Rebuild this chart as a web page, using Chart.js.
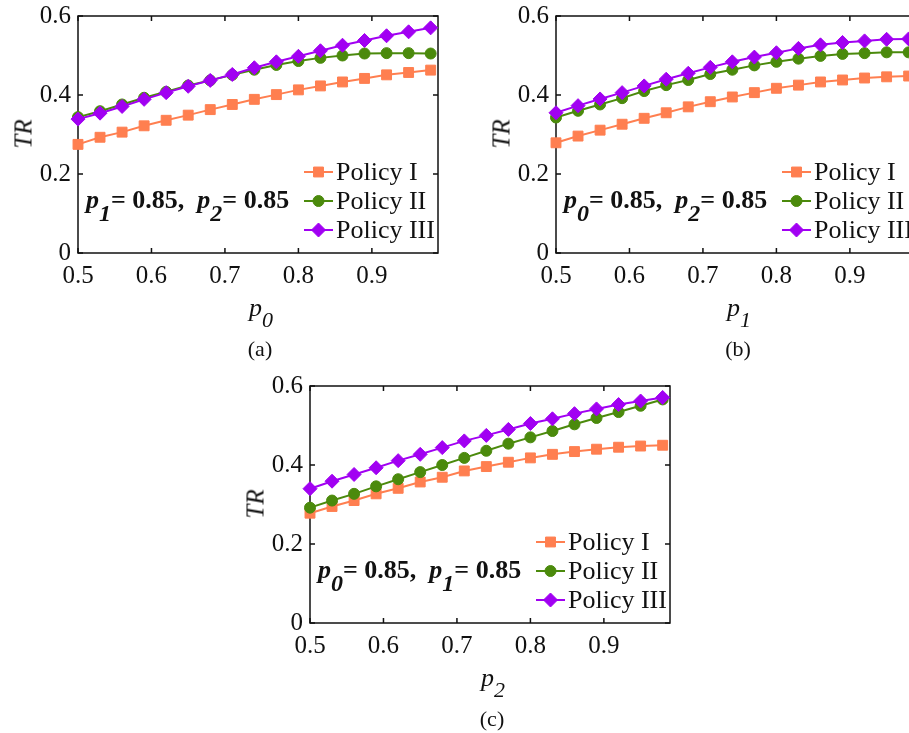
<!DOCTYPE html>
<html>
<head>
<meta charset="utf-8">
<title>TR vs p</title>
<script src="https://cdn.jsdelivr.net/npm/chart.js@4.4.1/dist/chart.umd.min.js"></script>
<style>
  html, body { margin: 0; padding: 0; background: #fff; overflow: hidden; width: 909px; height: 733px; }
  .panel { position: absolute; width: 460px; height: 370px; }
  .panel canvas { position: absolute; left: 0; top: 0; }
  .txt { position: absolute; font-family: 'Liberation Serif', 'Times New Roman', serif; color: #111; line-height: 1; white-space: nowrap; }
  .ytitle { left: 23px; top: 134px; font-size: 25px; font-style: italic; transform: translate(-50%, -50%) rotate(-90deg); }
  .xtitle { left: 261px; top: 295px; font-size: 26px; font-style: italic; transform: translateX(-50%); }
  .xtitle .sb { font-size: 22px; position: relative; top: 11px; }
  .cap { left: 260px; top: 338px; font-size: 22px; transform: translateX(-50%); }
  .note { left: 86px; top: 187px; font-size: 26px; font-weight: bold; }
  .note i { font-style: italic; }
  .note .sb { font-size: 24px; font-style: italic; position: relative; top: 13px; }
</style>
</head>
<body>

<div class="panel" style="left:0px; top:0px;">
  <canvas id="chartA" width="460" height="300"></canvas>
  <div class="txt ytitle">TR</div>
  <div class="txt xtitle">p<span class="sb">0</span></div>
  <div class="txt cap">(a)</div>
  <div class="txt note"><i>p</i><span class="sb">1</span>= 0.85,&nbsp; <i>p</i><span class="sb">2</span>= 0.85</div>
</div>

<div class="panel" style="left:478px; top:0px;">
  <canvas id="chartB" width="460" height="300"></canvas>
  <div class="txt ytitle">TR</div>
  <div class="txt xtitle">p<span class="sb">1</span></div>
  <div class="txt cap">(b)</div>
  <div class="txt note"><i>p</i><span class="sb">0</span>= 0.85,&nbsp; <i>p</i><span class="sb">2</span>= 0.85</div>
</div>

<div class="panel" style="left:232px; top:370px;">
  <canvas id="chartC" width="460" height="300"></canvas>
  <div class="txt ytitle">TR</div>
  <div class="txt xtitle">p<span class="sb">2</span></div>
  <div class="txt cap">(c)</div>
  <div class="txt note"><i>p</i><span class="sb">0</span>= 0.85,&nbsp; <i>p</i><span class="sb">1</span>= 0.85</div>
</div>

<script>
/* =========================
   DATA
========================= */
const xValues = [0.50, 0.53, 0.56, 0.59, 0.62, 0.65, 0.68, 0.71, 0.74, 0.77, 0.80, 0.83, 0.86, 0.89, 0.92, 0.95, 0.98];
const xTicks = [0.5, 0.6, 0.7, 0.8, 0.9];
const yTicks = [0, 0.2, 0.4, 0.6];

const seriesNames = ["Policy I", "Policy II", "Policy III"];
const seriesColors = ["#ff7f50", "#4b8a0c", "#a100f2"];
const seriesMarkers = ["rect", "circle", "rectRot"];
const markerSizes = [7, 5.5, 7];

// (a) TR over p0
const policyA1 = [0.275, 0.293, 0.306, 0.322, 0.336, 0.349, 0.363, 0.376, 0.389, 0.401, 0.413, 0.423, 0.433, 0.442, 0.451, 0.457, 0.463];
const policyA2 = [0.344, 0.359, 0.376, 0.393, 0.408, 0.424, 0.437, 0.451, 0.464, 0.476, 0.486, 0.494, 0.500, 0.505, 0.506, 0.506, 0.505];
const policyA3 = [0.339, 0.354, 0.371, 0.389, 0.406, 0.422, 0.437, 0.452, 0.469, 0.484, 0.498, 0.512, 0.526, 0.538, 0.550, 0.560, 0.570];

// (b) TR over p1
const policyB1 = [0.279, 0.296, 0.311, 0.326, 0.341, 0.355, 0.370, 0.383, 0.395, 0.406, 0.417, 0.425, 0.433, 0.438, 0.443, 0.446, 0.448];
const policyB2 = [0.343, 0.360, 0.376, 0.392, 0.410, 0.425, 0.438, 0.453, 0.464, 0.475, 0.484, 0.492, 0.499, 0.504, 0.506, 0.508, 0.508];
const policyB3 = [0.355, 0.373, 0.390, 0.406, 0.423, 0.440, 0.455, 0.470, 0.484, 0.496, 0.507, 0.518, 0.527, 0.533, 0.537, 0.541, 0.542];

// (c) TR over p2
const policyC1 = [0.278, 0.295, 0.310, 0.327, 0.341, 0.357, 0.369, 0.385, 0.396, 0.407, 0.418, 0.427, 0.434, 0.440, 0.445, 0.448, 0.450];
const policyC2 = [0.292, 0.310, 0.327, 0.346, 0.364, 0.382, 0.400, 0.418, 0.436, 0.454, 0.470, 0.486, 0.503, 0.519, 0.534, 0.550, 0.566];
const policyC3 = [0.340, 0.359, 0.376, 0.393, 0.411, 0.427, 0.444, 0.461, 0.475, 0.490, 0.505, 0.517, 0.530, 0.542, 0.553, 0.562, 0.571];

/* =========================
   PLUGIN: KOTAK + TICK KE DALAM
========================= */
const INK = "#111";

const boxPlugin = {
  id: "boxTicks",
  beforeDatasetsDraw(chart) {
    const { ctx, chartArea: a, scales } = chart;
    ctx.save();
    ctx.strokeStyle = INK;
    ctx.lineWidth = 1.5;
    ctx.strokeRect(a.left, a.top, a.right - a.left, a.bottom - a.top);
    ctx.beginPath();
    xTicks.forEach(v => {
      const px = scales.x.getPixelForValue(v);
      ctx.moveTo(px, a.bottom); ctx.lineTo(px, a.bottom - 5);
      ctx.moveTo(px, a.top); ctx.lineTo(px, a.top + 5);
    });
    yTicks.forEach(v => {
      const py = scales.y.getPixelForValue(v);
      ctx.moveTo(a.left, py); ctx.lineTo(a.left + 5, py);
      ctx.moveTo(a.right, py); ctx.lineTo(a.right - 5, py);
    });
    ctx.stroke();
    ctx.restore();
  }
};

/* =========================
   PLUGIN: LEGENDA DI DALAM PLOT
========================= */
function drawMarker(ctx, style, r, x, y) {
  if (Chart.helpers && Chart.helpers.drawPoint) {
    Chart.helpers.drawPoint(ctx, { pointStyle: style, radius: r, borderWidth: 1, rotation: 0 }, x, y);
    return;
  }
  ctx.beginPath();
  ctx.arc(x, y, r, 0, Math.PI * 2);
  ctx.fill();
}

const legendPlugin = {
  id: "innerLegend",
  afterDatasetsDraw(chart) {
    const { ctx, chartArea: a } = chart;
    ctx.save();
    chart.data.datasets.forEach((ds, i) => {
      const y = a.top + 156 + i * 29;
      const x0 = a.left + 226;
      const x1 = a.left + 255;
      ctx.strokeStyle = ds.borderColor;
      ctx.fillStyle = ds.pointBackgroundColor;
      ctx.lineWidth = 2;
      ctx.beginPath();
      ctx.moveTo(x0, y);
      ctx.lineTo(x1, y);
      ctx.stroke();
      ctx.lineWidth = 1;
      drawMarker(ctx, ds.pointStyle, ds.pointRadius, (x0 + x1) / 2, y);
      ctx.fillStyle = INK;
      ctx.font = "26px 'Liberation Serif', 'Times New Roman', serif";
      ctx.textBaseline = "middle";
      ctx.textAlign = "left";
      ctx.fillText(ds.label, x1 + 3, y + 1);
    });
    ctx.restore();
  }
};

/* =========================
   BIKIN SATU PANEL
========================= */
const fmt = v => (v === 0 ? "0" : v.toFixed(1));

function makePanel(canvasId, seriesList) {
  const ctx = document.getElementById(canvasId);

  return new Chart(ctx, {
    type: "line",
    data: {
      datasets: seriesList.map((values, i) => ({
        label: seriesNames[i],
        data: values.map((v, k) => ({ x: xValues[k], y: v })),
        borderColor: seriesColors[i],
        backgroundColor: seriesColors[i],
        pointBackgroundColor: seriesColors[i],
        pointBorderColor: seriesColors[i],
        pointStyle: seriesMarkers[i],
        pointRadius: markerSizes[i],
        pointBorderWidth: 1,
        borderWidth: 2,
        tension: 0,
        clip: false,
        order: 2 - i
      }))
    },
    options: {
      responsive: false,
      animation: false,
      events: [],
      layout: { padding: { top: 16, right: 22, left: 0, bottom: 0 } },
      plugins: {
        legend: { display: false },
        tooltip: { enabled: false }
      },
      scales: {
        x: {
          type: "linear",
          min: 0.5,
          max: 0.99,
          grid: { display: false, drawTicks: false },
          border: { display: false },
          afterBuildTicks: axis => { axis.ticks = xTicks.map(v => ({ value: v })); },
          afterFit: axis => {
            axis.height = 47;
            axis.paddingLeft = 0;
            axis.paddingRight = 0;
          },
          ticks: { padding: 8, color: INK, font: { size: 25 }, maxRotation: 0, autoSkip: false, callback: fmt }
        },
        y: {
          type: "linear",
          min: 0,
          max: 0.6,
          grid: { display: false, drawTicks: false },
          border: { display: false },
          afterBuildTicks: axis => { axis.ticks = yTicks.map(v => ({ value: v })); },
          afterFit: axis => {
            axis.width = 78;
            axis.paddingTop = 0;
            axis.paddingBottom = 0;
          },
          ticks: { padding: 7, color: INK, font: { size: 25 }, autoSkip: false, callback: fmt }
        }
      }
    },
    plugins: [boxPlugin, legendPlugin]
  });
}

/* =========================
   AUTO LOAD
========================= */
Chart.defaults.font.family = "'Liberation Serif', 'Times New Roman', serif";

makePanel("chartA", [policyA1, policyA2, policyA3]);
makePanel("chartB", [policyB1, policyB2, policyB3]);
makePanel("chartC", [policyC1, policyC2, policyC3]);
</script>
</body>
</html>
